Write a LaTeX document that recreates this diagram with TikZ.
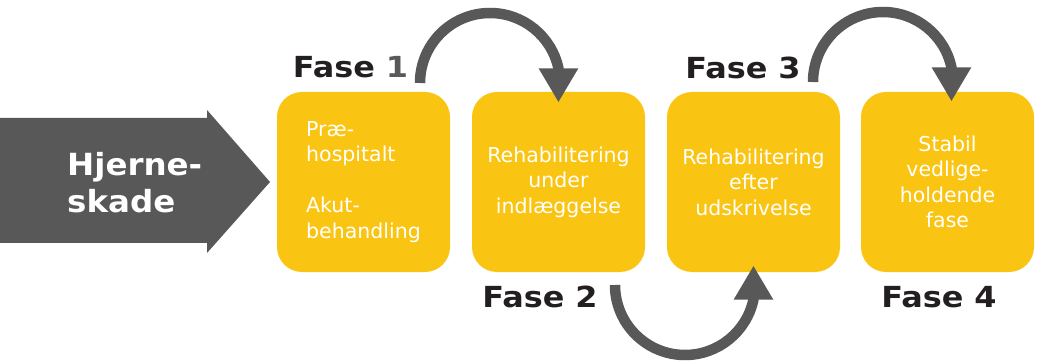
\documentclass[tikz,border=0pt]{standalone}
\usepackage{fontspec}
\setmainfont{DejaVu Sans}
\newfontfamily\fasefont[FakeStretch=1.10]{DejaVu Sans}
\newfontfamily\hjfont[FakeStretch=1.065]{DejaVu Sans}
\usetikzlibrary{arrows.meta}
\definecolor{fyellow}{RGB}{250,196,18}
\definecolor{fgray}{RGB}{87,88,87}
\definecolor{fdark}{RGB}{35,31,32}
\definecolor{fnum}{RGB}{88,89,91}
\begin{document}
\begin{tikzpicture}[x=1pt,y=1pt,
  phasebox/.style={draw=none, fill=fyellow, rounded corners=25pt,
    minimum width=173pt, minimum height=180pt, inner sep=0pt,
    text=white, font=\fontsize{20.5}{25.5}\selectfont, align=center},
  faselabel/.style={font=\fasefont\fontsize{29}{34}\selectfont\bfseries, text=fdark,
    anchor=base, inner sep=0pt},
  flow/.style={draw=fgray, line width=10.5pt,
    -{Triangle[length=34pt,width=37pt]}}]
\useasboundingbox (0,0) rectangle (1037,362);
% big input arrow
\fill[fgray] (0,119) -- (207,119) -- (207,109) -- (270,180) -- (207,252)
  -- (207,244) -- (0,244) -- cycle;
\node[font=\hjfont\fontsize{30.5}{38}\selectfont\bfseries, text=white, align=left,
  anchor=base west, inner sep=0pt] (hj) at (67,149) {Hjerne-\\skade};
% phase boxes
\node[phasebox, align=left] (b1) at (363.5,180) {Præ-\\hospitalt\\[25.5pt]Akut-\\behandling};
\node[phasebox] (b2) at (558.5,180) {Rehabilitering\\under\\indlæggelse};
\node[phasebox] (b3) at (753.5,180) {Rehabilitering\\efter\\udskrivelse};
\node[phasebox] (b4) at (947.5,180) {Stabil\\vedlige-\\holdende\\fase};
% labels
\node[faselabel] (f1) at (350.5,284) {Fase \textcolor{fnum}{1}};
\node[faselabel] (f2) at (540,55) {Fase 2};
\node[faselabel] (f3) at (743,283) {Fase 3};
\node[faselabel] (f4) at (939,55) {Fase 4};
% curved arrows
\coordinate (a1s) at (420,279);
\coordinate (a2s) at (615,77);
\coordinate (a3s) at (813,280);
\draw[flow] (a1s) arc[start angle=180, end angle=12, radius=70] -- ++(0,-34);
\draw[flow] (a2s) arc[start angle=180, end angle=348, radius=70] -- ++(0,34);
\draw[flow] (a3s) arc[start angle=180, end angle=12, radius=70] -- ++(0,-34);
\end{tikzpicture}
\end{document}
